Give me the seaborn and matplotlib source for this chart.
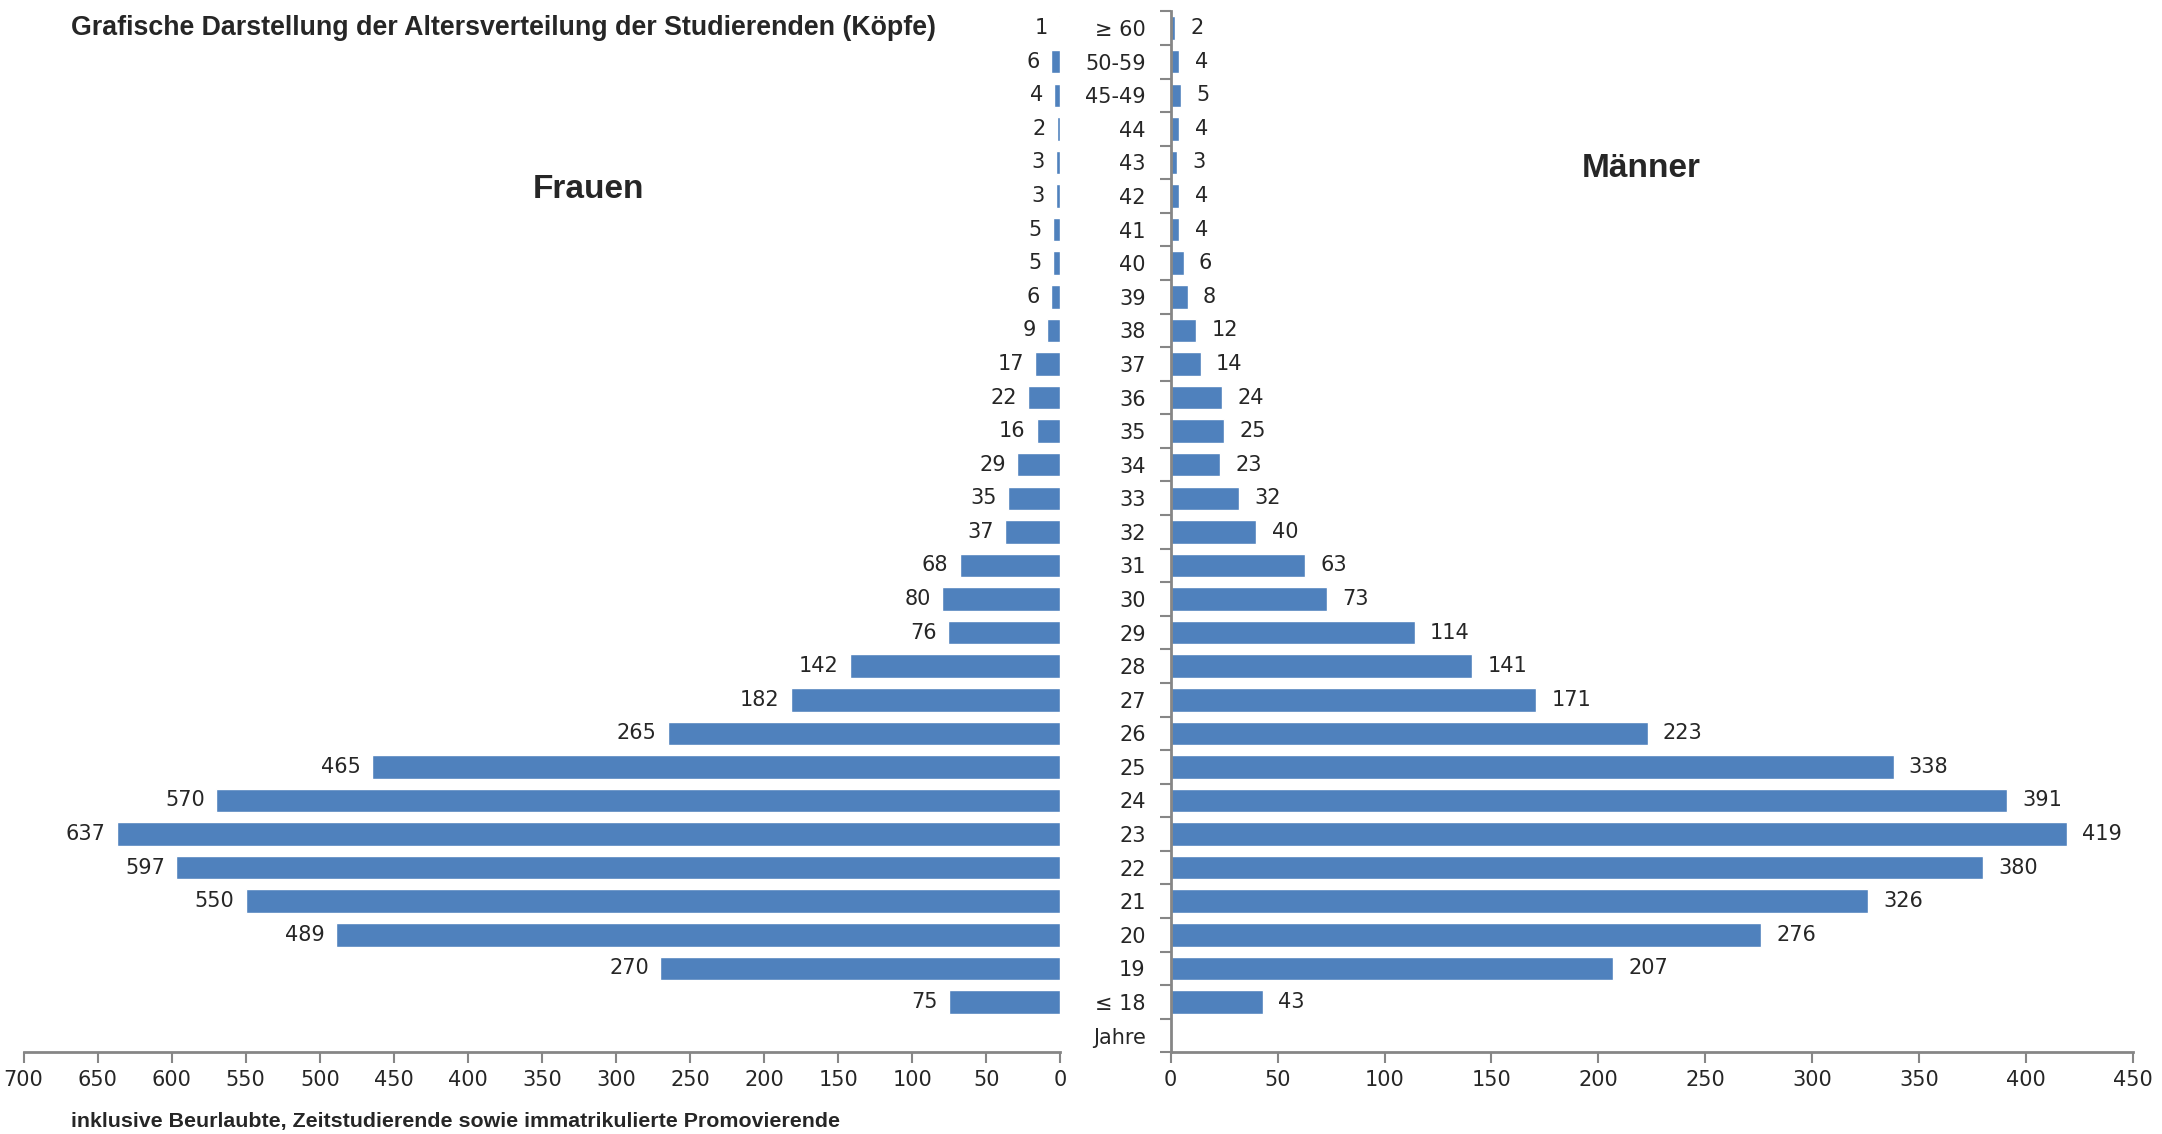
import matplotlib
matplotlib.use("Agg")
import matplotlib.pyplot as plt
import numpy as np
import pandas as pd
import seaborn as sns

ages = ["≥ 60", "50-59", "45-49", "44", "43", "42", "41", "40", "39", "38",
        "37", "36", "35", "34", "33", "32", "31", "30", "29", "28",
        "27", "26", "25", "24", "23", "22", "21", "20", "19", "≤ 18"]
women = [1, 6, 4, 2, 3, 3, 5, 5, 6, 9, 17, 22, 16, 29, 35, 37, 68, 80, 76, 142,
         182, 265, 465, 570, 637, 597, 550, 489, 270, 75]
men = [2, 4, 5, 4, 3, 4, 4, 6, 8, 12, 14, 24, 25, 23, 32, 40, 63, 73, 114, 141,
       171, 223, 338, 391, 419, 380, 326, 276, 207, 43]

data = pd.DataFrame({"age": ages, "Frauen": women, "Männer": men})

sns.set_theme(style="white")
plt.rcParams["font.family"] = ["DejaVu Sans"]

blue = "#4F81BD"
grey = "#868686"

fig = plt.figure(figsize=(21.62, 11.34), dpi=100)
ax_l = fig.add_axes([0.0109, 0.072, 0.4795, 0.918])
ax_r = fig.add_axes([0.5415, 0.072, 0.4451, 0.918])

sns.barplot(data=data, x="Frauen", y="age", orient="h", color=blue,
            width=0.7, ax=ax_l, saturation=1)
sns.barplot(data=data, x="Männer", y="age", orient="h", color=blue,
            width=0.7, ax=ax_r, saturation=1)

n = len(ages)
for ax in (ax_l, ax_r):
    ax.set_ylim(n + 0.5, -0.5)
    ax.set_xlabel("")
    ax.set_ylabel("")
    for s in ax.spines.values():
        s.set_visible(False)
    ax.spines["bottom"].set_visible(True)
    ax.spines["bottom"].set_color(grey)
    ax.spines["bottom"].set_linewidth(2)
    ax.tick_params(axis="x", which="major", length=8, width=1.5, color=grey,
                   direction="out", bottom=True, labelsize=15, pad=5)

ax_l.set_xlim(700, 0)
ax_l.set_xticks(np.arange(0, 701, 50))
ax_l.set_yticks([])
ax_l.bar_label(ax_l.containers[0], padding=8, fontsize=15)

ax_r.set_xlim(0, 450)
ax_r.set_xticks(np.arange(0, 451, 50))
ax_r.set_yticks(range(n + 1))
ax_r.set_yticklabels(ages + ["Jahre"])
ax_r.set_yticks(np.arange(-0.5, n + 1, 1), minor=True)
ax_r.spines["left"].set_visible(True)
ax_r.spines["left"].set_color(grey)
ax_r.spines["left"].set_linewidth(2)
ax_r.tick_params(axis="y", which="major", length=0, labelsize=15, pad=18)
ax_r.tick_params(axis="y", which="minor", length=8, width=1.5, color=grey,
                 direction="out", left=True)
ax_r.bar_label(ax_r.containers[0], padding=11, fontsize=15)

fig.text(0.033, 0.975, "Grafische Darstellung der Altersverteilung der Studierenden (Köpfe)",
         fontsize=19.3, fontweight="bold", family="Liberation Sans", va="center")
fig.text(0.272, 0.833, "Frauen", fontsize=24, fontweight="bold",
         family="Liberation Sans", ha="center", va="center")
fig.text(0.759, 0.851, "Männer", fontsize=24, fontweight="bold",
         family="Liberation Sans", ha="center", va="center")
fig.text(0.033, 0.011, "inklusive Beurlaubte, Zeitstudierende sowie immatrikulierte Promovierende",
         fontsize=15.4, fontweight="bold", family="Liberation Sans", va="center")

fig.savefig("out.png", dpi=100)
